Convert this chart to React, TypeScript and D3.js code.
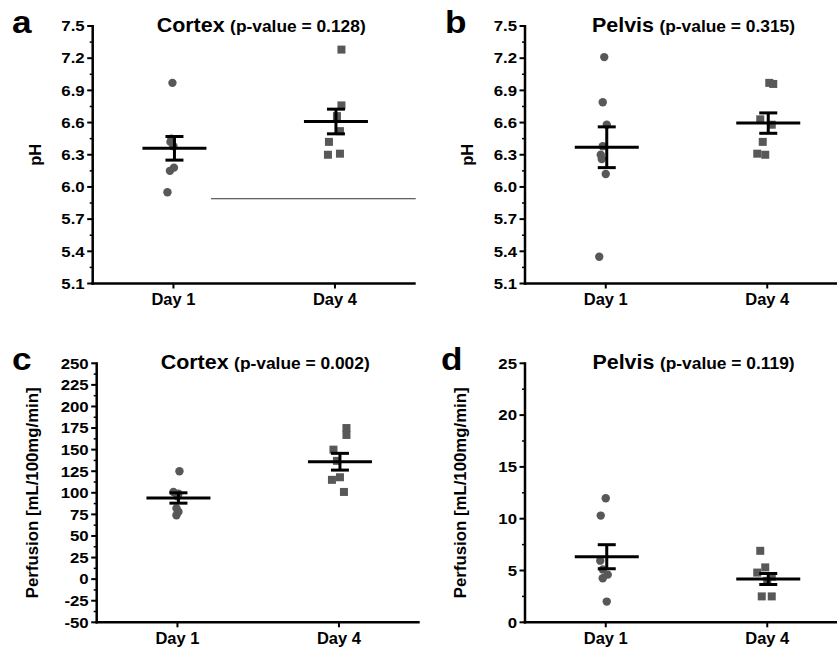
import React from 'react';
import * as d3 from 'd3';

// ---------- data ----------
const categories = ['Day 1', 'Day 4'];

const phTicks = [5.1, 5.4, 5.7, 6.0, 6.3, 6.6, 6.9, 7.2, 7.5];
const cortexPerfTicks = [-50, -25, 0, 25, 50, 75, 100, 125, 150, 175, 200, 225, 250];
const pelvisPerfTicks = [0, 5, 10, 15, 20, 25];

// panel a: cortex pH
const cortexPhDay1 = [6.97, 6.45, 6.42, 6.38, 6.18, 6.15, 5.95];
const cortexPhDay4 = [7.28, 6.76, 6.66, 6.52, 6.42, 6.31, 6.30];
const cortexPhMean = [6.36, 6.61];
const cortexPhSem = [0.11, 0.115];
const cortexPhJitter1 = [-1, -2, -3, 0, 0.5, -3.5, -6];
const cortexPhJitter4 = [6.5, 6.5, 2, 5, -6, 5, -7];

// panel b: pelvis pH
const pelvisPhDay1 = [7.21, 6.79, 6.58, 6.38, 6.30, 6.26, 6.12, 5.35];
const pelvisPhDay4 = [6.97, 6.96, 6.63, 6.58, 6.42, 6.31, 6.30];
const pelvisPhMean = [6.37, 6.595];
const pelvisPhSem = [0.19, 0.095];
const pelvisPhJitter1 = [-1.5, -3, 1, -3, -5, -4, 0, -6.5];
const pelvisPhJitter4 = [2, 6, -7, 4.5, -4.5, -10, -2];

// panel c: cortex perfusion
const cortexPerfDay1 = [125, 101, 99, 96, 82, 78, 74];
const cortexPerfDay4 = [175, 167, 150, 137, 118, 115, 101];
const cortexPerfMean = [94, 136];
const cortexPerfSem = [6, 9.7];
const cortexPerfJitter1 = [2, -4, 1, 0, -1, 1, -1];
const cortexPerfJitter4 = [7.5, 7.5, -5.5, -2, 1, -7, 5];

// panel d: pelvis perfusion
const pelvisPerfDay1 = [11.97, 10.3, 5.95, 5.1, 4.6, 4.25, 2.0];
const pelvisPerfDay4 = [6.9, 5.3, 4.8, 4.4, 4.0, 2.5, 2.5];
const pelvisPerfMean = [6.33, 4.18];
const pelvisPerfSem = [1.16, 0.53];
const pelvisPerfJitter1 = [0, -5, -5.5, -3, 2, -3, 1];
const pelvisPerfJitter4 = [-7, -2, -10, 4.5, 0, -5.5, 4.5];

const FONT = '"Liberation Sans", Arial, Helvetica, sans-serif';
const MARK = '#585858';

type PanelDef = {
  letter: string;
  title: string;
  pval: string;
  yLabel: string;
  ticks: number[];
  fmt: (v: number) => string;
  day1: number[];
  day4: number[];
  j1: number[];
  j4: number[];
  mean: number[];
  sem: number[];
  left: number;
  top: number;
  bottom: number;
  letterX: number;
  stray?: { from: number; value: number };
};

const PLOT_W = 323;

const panels: PanelDef[] = [
  {
    letter: 'a', title: 'Cortex', pval: '(p-value = 0.128)', yLabel: 'pH',
    ticks: phTicks, fmt: (v) => v.toFixed(1),
    day1: cortexPhDay1, day4: cortexPhDay4, j1: cortexPhJitter1, j4: cortexPhJitter4,
    mean: cortexPhMean, sem: cortexPhSem,
    left: 92.7, top: 26, bottom: 283.5, letterX: 12,
    stray: { from: 211, value: 5.89 },
  },
  {
    letter: 'b', title: 'Pelvis', pval: '(p-value = 0.315)', yLabel: 'pH',
    ticks: phTicks, fmt: (v) => v.toFixed(1),
    day1: pelvisPhDay1, day4: pelvisPhDay4, j1: pelvisPhJitter1, j4: pelvisPhJitter4,
    mean: pelvisPhMean, sem: pelvisPhSem,
    left: 525, top: 26, bottom: 283.5, letterX: 445,
  },
  {
    letter: 'c', title: 'Cortex', pval: '(p-value = 0.002)', yLabel: 'Perfusion [mL/100mg/min]',
    ticks: cortexPerfTicks, fmt: (v) => String(v),
    day1: cortexPerfDay1, day4: cortexPerfDay4, j1: cortexPerfJitter1, j4: cortexPerfJitter4,
    mean: cortexPerfMean, sem: cortexPerfSem,
    left: 96.7, top: 363.3, bottom: 622.3, letterX: 12,
  },
  {
    letter: 'd', title: 'Pelvis', pval: '(p-value = 0.119)', yLabel: 'Perfusion [mL/100mg/min]',
    ticks: pelvisPerfTicks, fmt: (v) => String(v),
    day1: pelvisPerfDay1, day4: pelvisPerfDay4, j1: pelvisPerfJitter1, j4: pelvisPerfJitter4,
    mean: pelvisPerfMean, sem: pelvisPerfSem,
    left: 525, top: 363.3, bottom: 622.3, letterX: 441,
  },
];

function Panel({ p }: { p: PanelDef }) {
  const t0 = p.ticks[0];
  const t1 = p.ticks[p.ticks.length - 1];
  const y = d3.scaleLinear().domain([t0, t1]).range([p.bottom, p.top]);
  const x = d3.scalePoint<string>().domain(categories).range([p.left, p.left + PLOT_W]).padding(0.5);
  const minor = p.ticks.slice(0, -1).map((t, i) => (t + p.ticks[i + 1]) / 2);
  const isPh = p.yLabel === 'pH';
  const cx = p.left + PLOT_W / 2 + 7;
  const titleY = p.top + 6;
  const yLabelX = isPh ? p.left - 52 : p.left - 59;
  const yMid = (p.top + p.bottom) / 2;
  const groups = [
    { vals: p.day1, jit: p.j1, cat: categories[0], shape: 'circle' },
    { vals: p.day4, jit: p.j4, cat: categories[1], shape: 'square' },
  ];
  return (
    <g>
      {/* panel letter */}
      <g transform={`translate(${p.letterX},${p.top + 7}) scale(1.1,1)`}>
        <text fontFamily={FONT} fontWeight="bold" fontSize={32} fill="#000">{p.letter}</text>
      </g>
      {/* title */}
      <g transform={`translate(${cx},${titleY}) scale(1.1,1)`}>
        <text fontFamily={FONT} fontWeight="bold" textAnchor="middle" fill="#000">
          <tspan fontSize={19.5}>{p.title}</tspan>
          <tspan fontSize={15.8} dx={5}>{p.pval}</tspan>
        </text>
      </g>
      {/* y label */}
      <text
        transform={`translate(${yLabelX},${yMid}) rotate(-90)`}
        fontFamily={FONT} fontWeight="bold" fontSize={isPh ? 16.5 : 16.8}
        textAnchor="middle" fill="#000"
      >{p.yLabel}</text>
      {/* stray line */}
      {p.stray && (
        <line x1={p.stray.from} x2={p.left + PLOT_W} y1={y(p.stray.value)} y2={y(p.stray.value)}
          stroke="#333" strokeWidth={1} />
      )}
      {/* y ticks */}
      {p.ticks.map((t) => (
        <g key={'t' + t}>
          <line x1={p.left - 5.5} x2={p.left} y1={y(t)} y2={y(t)} stroke="#000" strokeWidth={2} />
          <g transform={`translate(${p.left - 8},${y(t) + 5.3}) scale(1.12,1)`}>
            <text fontFamily={FONT} fontWeight="bold" fontSize={15} textAnchor="end" fill="#000">{p.fmt(t)}</text>
          </g>
        </g>
      ))}
      {minor.map((t) => (
        <line key={'m' + t} x1={p.left - 3} x2={p.left} y1={y(t)} y2={y(t)} stroke="#000" strokeWidth={1.5} />
      ))}
      {/* x ticks and labels */}
      {categories.map((c) => (
        <g key={c}>
          <line x1={x(c)} x2={x(c)} y1={p.bottom} y2={p.bottom + 5} stroke="#000" strokeWidth={2} />
          <text x={x(c)} y={p.bottom + 21.5} fontFamily={FONT} fontWeight="bold" fontSize={16.5}
            textAnchor="middle" fill="#000">{c}</text>
        </g>
      ))}
      {/* points */}
      {groups.map((g) =>
        g.vals.map((v, i) => {
          const px = (x(g.cat) as number) + g.jit[i];
          const py = y(v);
          return g.shape === 'circle' ? (
            <circle key={g.cat + i} cx={px} cy={py} r={4.2} fill={MARK} />
          ) : (
            <rect key={g.cat + i} x={px - 4} y={py - 4} width={8} height={8} fill={MARK} />
          );
        })
      )}
      {/* mean and SEM */}
      {categories.map((c, i) => {
        const xc = (x(c) as number) + 1;
        const m = p.mean[i];
        const s = p.sem[i];
        return (
          <g key={'e' + c} stroke="#000" strokeWidth={3}>
            <line x1={xc - 32} x2={xc + 32} y1={y(m)} y2={y(m)} />
            <line x1={xc} x2={xc} y1={y(m + s)} y2={y(m - s)} />
            <line x1={xc - 9} x2={xc + 9} y1={y(m + s)} y2={y(m + s)} />
            <line x1={xc - 9} x2={xc + 9} y1={y(m - s)} y2={y(m - s)} />
          </g>
        );
      })}
      {/* axes */}
      <line x1={p.left} x2={p.left} y1={p.top - 1} y2={p.bottom + 1.25} stroke="#000" strokeWidth={2.5} />
      <line x1={p.left - 1.25} x2={p.left + PLOT_W} y1={p.bottom} y2={p.bottom} stroke="#000" strokeWidth={2.5} />
    </g>
  );
}

export default function App() {
  return (
    <svg width={837} height={649} viewBox="0 0 837 649"
      style={{ position: 'absolute', left: 0, top: 0, background: '#fff' }}>
      <rect x={0} y={0} width={837} height={649} fill="#fff" />
      {panels.map((p) => <Panel key={p.letter} p={p} />)}
    </svg>
  );
}
